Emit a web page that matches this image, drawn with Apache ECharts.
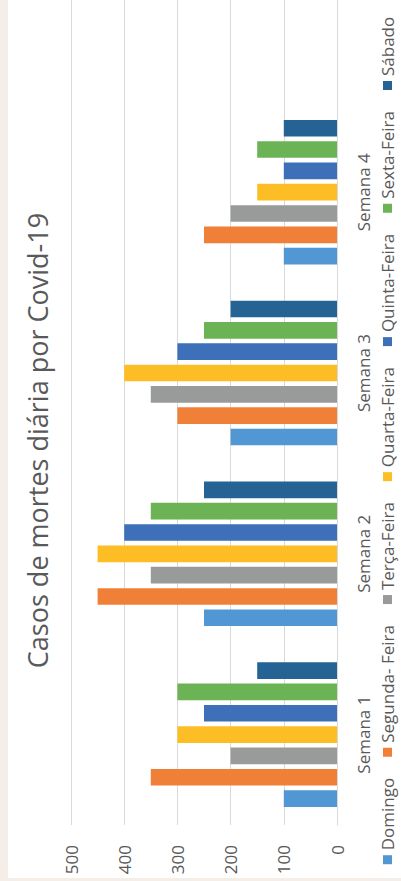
<!DOCTYPE html>
<html>
<head>
<meta charset="utf-8">
<script src="https://cdn.jsdelivr.net/npm/echarts@6/dist/echarts.min.js"></script>
<style>
  html, body { margin: 0; padding: 0; background: #f5ede8; width: 401px; height: 881px; overflow: hidden; }
  #wrap { position: absolute; left: 0; top: 0; width: 881px; height: 401px;
          transform-origin: 0 0; transform: rotate(-90deg) translateX(-881px); }
  #paper { position: absolute; left: 3px; top: 8px; width: 878px; height: 393px; background: #ffffff; }
  #chart { position: absolute; left: 0; top: 0; width: 881px; height: 401px; }
</style>
</head>
<body>
<div id="wrap"><div id="paper"></div><div id="chart"></div></div>
<script>
const titleText = 'Casos de mortes diária por Covid-19';
const categories = ['Semana 1', 'Semana 2', 'Semana 3', 'Semana 4'];
const seriesNames = ['Domingo', 'Segunda- Feira', 'Terça-Feira', 'Quarta-Feira', 'Quinta-Feira', 'Sexta-Feira', 'Sábado'];
const domingo = [100, 250, 200, 100];
const segunda = [350, 450, 300, 250];
const terca   = [200, 350, 350, 200];
const quarta  = [300, 450, 400, 150];
const quinta  = [250, 400, 300, 100];
const sexta   = [300, 350, 250, 150];
const sabado  = [150, 250, 200, 100];
const valueTicks = [0, 100, 200, 300, 400, 500];

const seriesData = [domingo, segunda, terca, quarta, quinta, sexta, sabado];
const colors = ['#5097d3', '#f08038', '#999b9b', '#fdbe25', '#3d70b9', '#6bb355', '#246394'];
const font = '"Open Sans", "Liberation Sans", sans-serif';
const textColor = '#595959';
const gridColor = '#d9d9d9';
const vMin = valueTicks[0], vMax = valueTicks[valueTicks.length - 1], vStep = valueTicks[1] - valueTicks[0];

const chart = echarts.init(document.getElementById('chart'), null, { renderer: 'svg' });
chart.setOption({
  animation: false,
  color: colors,
  title: {
    text: titleText, left: 'center', top: 19,
    textStyle: { fontFamily: font, fontSize: 27, fontWeight: 'normal', color: textColor }
  },
  legend: {
    data: seriesNames, left: 'center', top: 374, icon: 'rect',
    itemWidth: 9, itemHeight: 9, itemGap: 21,
    textStyle: { fontFamily: font, fontSize: 17, color: textColor }
  },
  grid: [
    { left: 56, top: 71, width: 723.2, height: 266, containLabel: false },
    { left: 779.2, top: 71, width: 120, height: 266, containLabel: false }
  ],
  xAxis: [
    {
      type: 'category', data: categories, gridIndex: 0,
      axisLine: { show: true, lineStyle: { color: gridColor, width: 1 } },
      axisTick: { show: false },
      axisLabel: { margin: 18, fontFamily: font, fontSize: 17, color: textColor }
    },
    {
      type: 'value', gridIndex: 1, min: 0, max: 1,
      axisLine: { show: true, lineStyle: { color: gridColor, width: 1 } },
      axisTick: { show: false }, axisLabel: { show: false }, splitLine: { show: false }
    }
  ],
  yAxis: [
    {
      type: 'value', gridIndex: 0, min: vMin, max: vMax, interval: vStep,
      axisLine: { show: false }, axisTick: { show: false },
      splitLine: { lineStyle: { color: gridColor, width: 1 } },
      axisLabel: { margin: 20, fontFamily: font, fontSize: 17, color: textColor }
    },
    {
      type: 'value', gridIndex: 1, min: vMin, max: vMax, interval: vStep,
      axisLine: { show: false }, axisTick: { show: false },
      splitLine: { lineStyle: { color: gridColor, width: 1 } },
      axisLabel: { show: false }
    }
  ],
  series: seriesNames.map((name, i) => ({
    name, type: 'bar', data: seriesData[i], xAxisIndex: 0, yAxisIndex: 0,
    barCategoryGap: '20%', barGap: '28%'
  }))
});
</script>
</body>
</html>
